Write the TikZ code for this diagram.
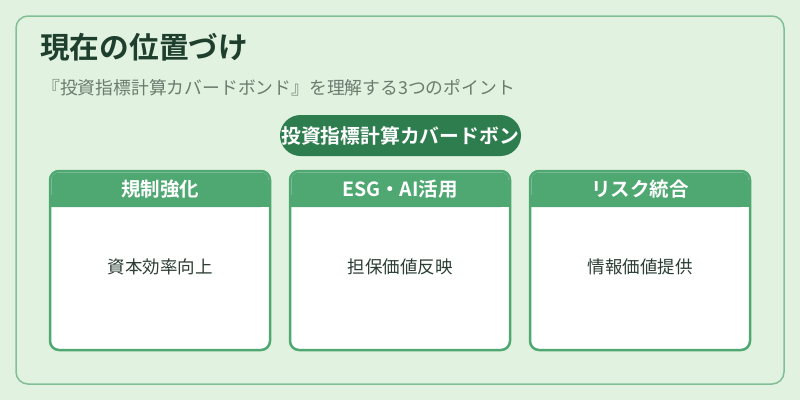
\documentclass[tikz,border=0pt]{standalone}
\usepackage{fontspec}
\setmainfont{Noto Sans CJK JP}
\newfontfamily\jpb{Noto Sans CJK JP Bold}
\definecolor{bgc}{HTML}{E1F2E0}
\definecolor{outerc}{HTML}{82BE96}
\definecolor{cardc}{HTML}{4FA872}
\definecolor{pillc}{HTML}{2E7D4F}
\definecolor{titlec}{HTML}{1F3F2E}
\definecolor{subc}{HTML}{6B7C70}
\definecolor{bodyc}{HTML}{2C3E33}
\tikzset{
  cardbox/.style={draw=cardc, line width=2.5pt, fill=white, rounded corners=9pt},
  headtxt/.style={text=white, font=\jpb\fontsize{19.5}{21}\selectfont, anchor=center, inner sep=0},
  bodytxt/.style={text=bodyc, font=\fontsize{17.5}{19}\selectfont, anchor=center, inner sep=0},
}
\begin{document}
\begin{tikzpicture}[x=1pt,y=-1pt]
\useasboundingbox (0,0) rectangle (800,400);
\fill[bgc] (0,0) rectangle (800,400);
\draw[outerc, line width=1.5pt, rounded corners=12pt, fill=bgc] (16,16) rectangle (784,384);
\node[anchor=west, text=titlec, font=\jpb\fontsize{29.7}{32}\selectfont, inner sep=0] (title) at (40,47) {現在の位置づけ};
\node[anchor=west, text=subc, font=\fontsize{17.8}{19}\selectfont, inner sep=0] (sub) at (42,88) {『投資指標計算カバードボンド』を理解する3つのポイント};
\fill[pillc, rounded corners=20.5pt] (280,115) rectangle (521,156);
\node[text=white, font=\jpb\fontsize{19.8}{21}\selectfont, inner sep=0] (pill) at (400,135.5) {投資指標計算カバードボン};
\foreach \i/\x/\h/\b in {1/50/規制強化/資本効率向上, 2/290/ESG・AI活用/担保価値反映, 3/530/リスク統合/情報価値提供} {
  \draw[cardbox] (\x,171) rectangle (\x+220,350);
  \fill[cardc, rounded corners=8pt] (\x+1.25,172.25) -- (\x+218.75,172.25) -- (\x+218.75,207) [sharp corners] -- (\x+1.25,207) [rounded corners=8pt] -- cycle;
  \fill[cardc] (\x+1.25,195) rectangle (\x+218.75,207);
  \node[headtxt] (h\i) at (\x+110,189) {\h};
  \node[bodytxt] (b\i) at (\x+110,267) {\b};
}
\end{tikzpicture}
\end{document}
